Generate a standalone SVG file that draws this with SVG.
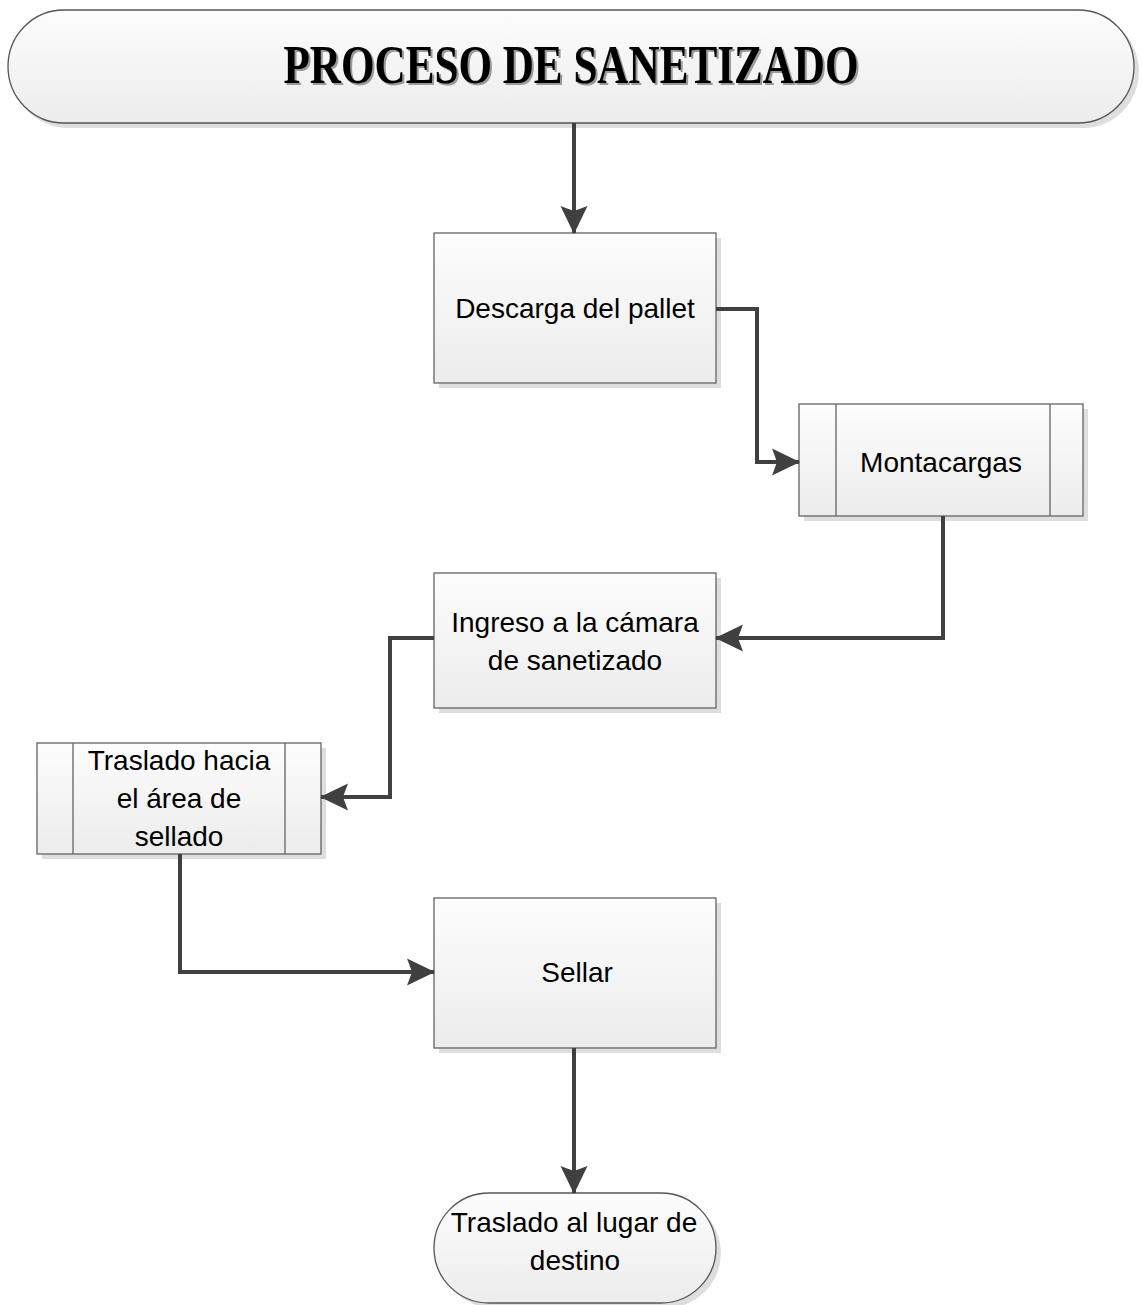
<svg xmlns="http://www.w3.org/2000/svg" width="1142" height="1305" viewBox="0 0 1142 1305">
  <style>
    .shape { fill: url(#fillGrad); stroke: #6e6e6e; stroke-width: 1.4; }
    .term { fill: url(#fillGrad); stroke: #555555; stroke-width: 1.3; }
    .shadow { fill: #dedede; }
    .divider { stroke: #6e6e6e; stroke-width: 1.4; fill: none; }
    .label { font-family: "Liberation Sans", Arial, sans-serif; font-size: 28px; fill: #000; text-anchor: middle; }
    .flow { fill: none; stroke: #404040; stroke-width: 4; stroke-linejoin: miter; }
    .title { font-family: "Liberation Serif", "Times New Roman", serif; font-weight: bold; font-size: 54px; text-anchor: middle; }
  </style>
  <defs>
    <linearGradient id="fillGrad" x1="0" y1="0" x2="0" y2="1">
      <stop offset="0" stop-color="#fdfdfd"/>
      <stop offset="1" stop-color="#ececec"/>
    </linearGradient>
    <!-- stealth-style arrowhead with a shallow notch at the back -->
    <marker id="arrow" viewBox="0 0 28 28" refX="27" refY="14" markerUnits="userSpaceOnUse" markerWidth="28" markerHeight="28" orient="auto">
      <path d="M0,0.5 L28,14 L0,27.5 L5,14 Z" fill="#404040"/>
    </marker>
  </defs>

  <rect width="1142" height="1305" fill="#ffffff"/>

  <!-- start terminator -->
  <g id="inicio">
    <path class="shadow" d="M68,15 H1083 A56,56.5 0 0 1 1083,128 H68 A56,56.5 0 0 1 68,15 Z"/>
    <path class="term" d="M64,10 H1078 A56,56.5 0 0 1 1078,123 H64 A56,56.5 0 0 1 64,10 Z"/>
    <text class="title" x="573" y="85" fill="#9a9a9a" textLength="575" lengthAdjust="spacingAndGlyphs">PROCESO DE SANETIZADO</text>
    <text class="title" x="571" y="83" fill="#000" textLength="575" lengthAdjust="spacingAndGlyphs">PROCESO DE SANETIZADO</text>
  </g>

  <!-- process: unloading -->
  <g id="descarga">
    <rect class="shadow" x="439" y="238" width="282" height="150"/>
    <rect class="shape" x="434" y="233" width="282" height="150"/>
    <text class="label" x="575" y="318">Descarga del pallet</text>
  </g>

  <!-- predefined process: forklift -->
  <g id="montacargas">
    <rect class="shadow" x="804" y="409" width="284" height="112"/>
    <rect class="shape" x="799" y="404" width="284" height="112"/>
    <line class="divider" x1="836" y1="404" x2="836" y2="516"/>
    <line class="divider" x1="1050" y1="404" x2="1050" y2="516"/>
    <text class="label" x="941" y="472">Montacargas</text>
  </g>

  <!-- process: chamber entry -->
  <g id="ingreso">
    <rect class="shadow" x="439" y="578" width="282" height="135"/>
    <rect class="shape" x="434" y="573" width="282" height="135"/>
    <text class="label" x="575" y="632">Ingreso a la cámara</text>
    <text class="label" x="575" y="670">de sanetizado</text>
  </g>

  <!-- predefined process: transfer to sealing -->
  <g id="traslado-sellado">
    <rect class="shadow" x="42" y="748" width="284" height="111"/>
    <rect class="shape" x="37" y="743" width="284" height="111"/>
    <line class="divider" x1="73" y1="743" x2="73" y2="854"/>
    <line class="divider" x1="285" y1="743" x2="285" y2="854"/>
    <text class="label" x="179" y="770">Traslado hacia</text>
    <text class="label" x="179" y="808">el área de</text>
    <text class="label" x="179" y="846">sellado</text>
  </g>

  <!-- process: seal -->
  <g id="sellar">
    <rect class="shadow" x="439" y="903" width="282" height="150"/>
    <rect class="shape" x="434" y="898" width="282" height="150"/>
    <text class="label" x="577" y="982">Sellar</text>
  </g>

  <!-- end terminator -->
  <g id="fin">
    <path class="shadow" d="M494,1198 H666 A55,55 0 0 1 666,1308 H494 A55,55 0 0 1 494,1198 Z"/>
    <path class="term" d="M489,1193 H661 A55,55 0 0 1 661,1303 H489 A55,55 0 0 1 489,1193 Z"/>
    <text class="label" x="574" y="1232">Traslado al lugar de</text>
    <text class="label" x="575" y="1270">destino</text>
  </g>

  <!-- connectors -->
  <g id="connectors">
    <path class="flow" d="M574,123 V233" marker-end="url(#arrow)"/>
    <path class="flow" d="M716,309 H757 V462 H799" marker-end="url(#arrow)"/>
    <path class="flow" d="M943,516 V638 H716" marker-end="url(#arrow)"/>
    <path class="flow" d="M434,638 H390 V797 H321" marker-end="url(#arrow)"/>
    <path class="flow" d="M180,854 V972 H434" marker-end="url(#arrow)"/>
    <path class="flow" d="M574,1048 V1193" marker-end="url(#arrow)"/>
  </g>
</svg>
